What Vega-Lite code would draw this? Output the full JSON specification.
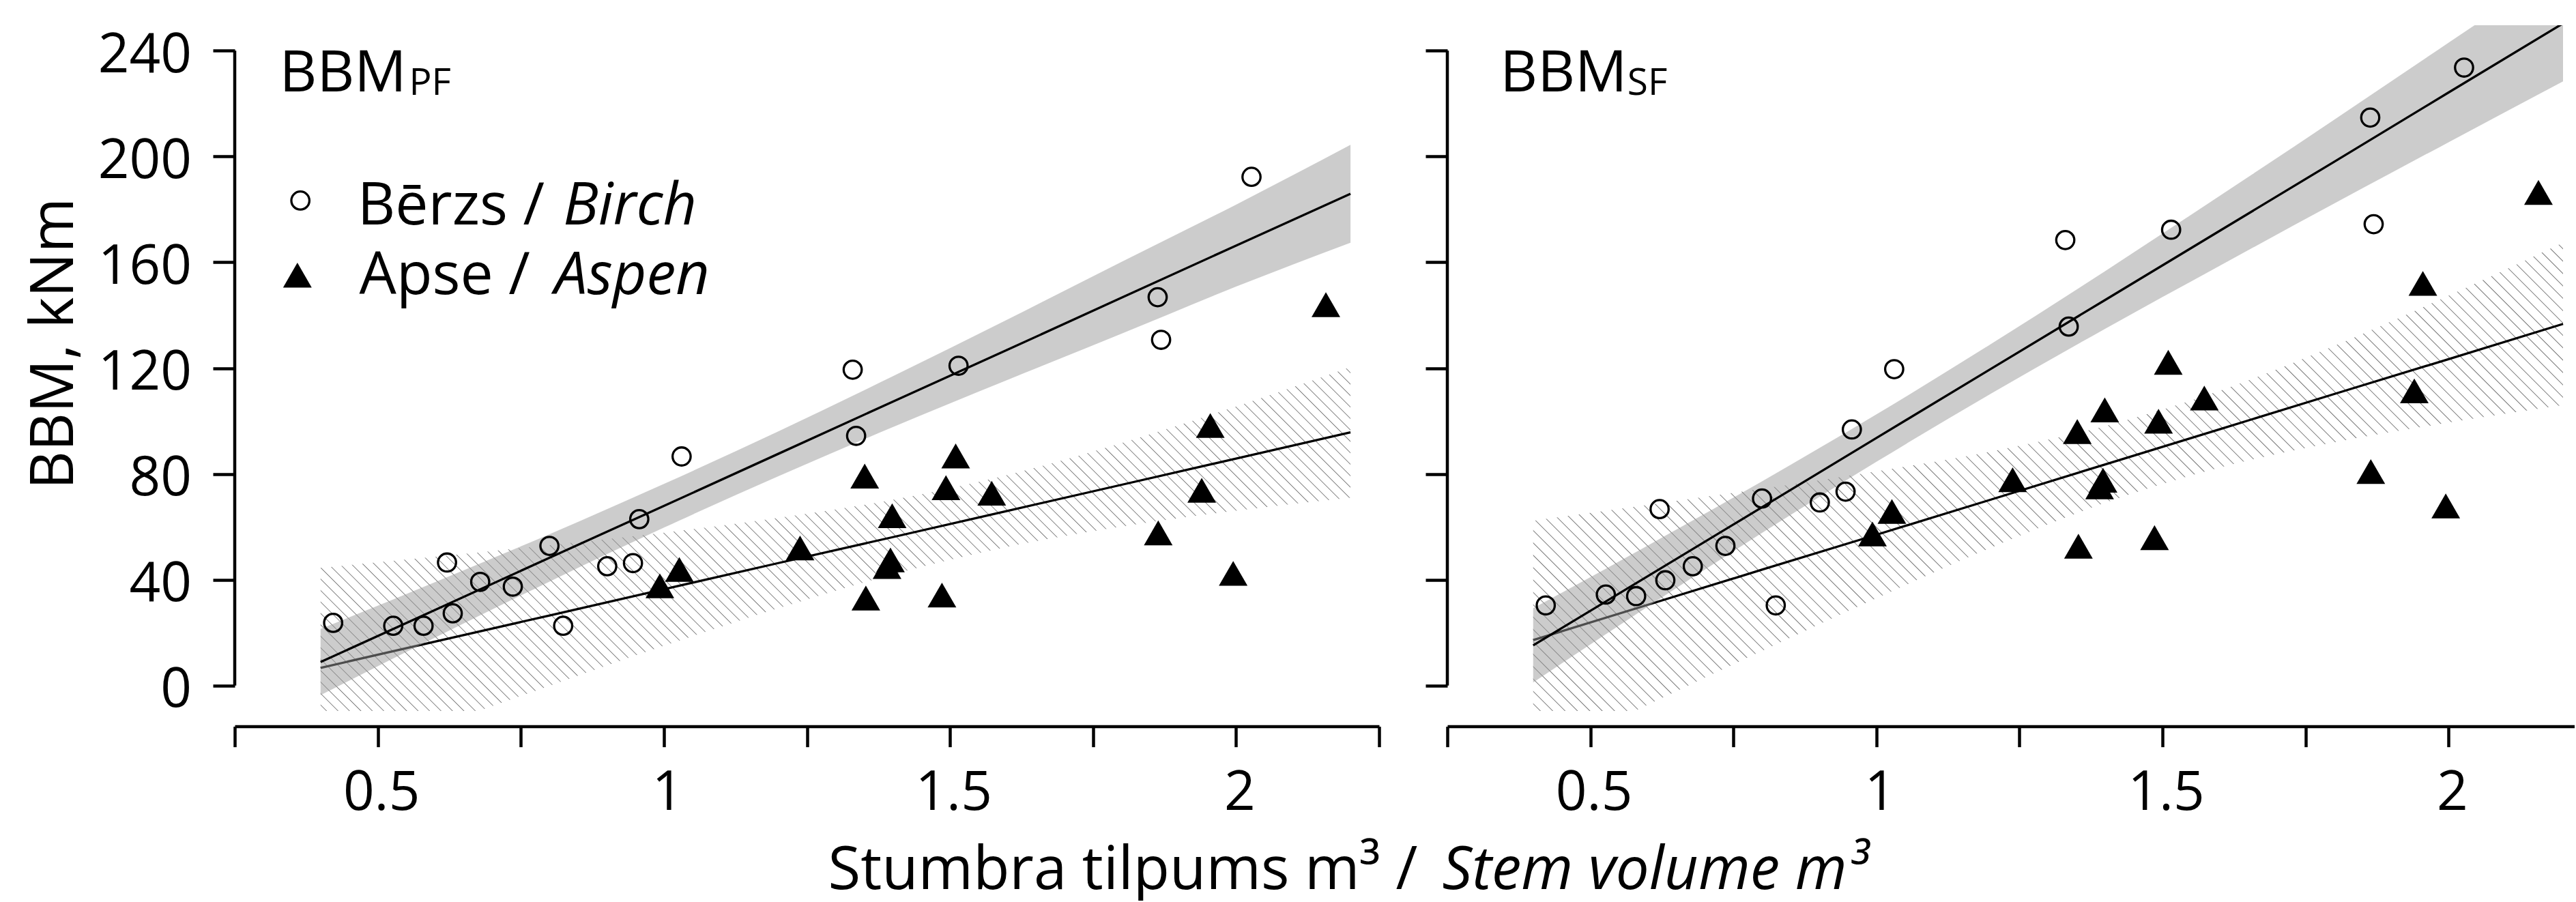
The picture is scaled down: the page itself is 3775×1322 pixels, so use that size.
{
"$schema":"https://vega.github.io/schema/vega-lite/v6.json",
"background":"white",
"padding":{"left":36,"top":37,"right":0,"bottom":0},
"bounds":"flush",
"spacing":100,
"config":{"view":{"stroke":null},"font":"Open Sans","axis":{"grid":false,"labelFont":"Open Sans","titleFont":"Open Sans","labelColor":"black","titleColor":"black","tickColor":"black","domainColor":"black","tickWidth":4.5,"domainWidth":4.5,"labelFontSize":80,"titleFontSize":87,"titleFontWeight":"normal","labelOverlap":false,"labelFlush":false}},
"datasets":{
"pts":[
{"panel":"PF","species":"Birch","vol":0.422,"bbm":23.7},{"panel":"PF","species":"Birch","vol":0.527,"bbm":22.6},{"panel":"PF","species":"Birch","vol":0.580,"bbm":22.6},{"panel":"PF","species":"Birch","vol":0.621,"bbm":46.5},{"panel":"PF","species":"Birch","vol":0.631,"bbm":27.3},{"panel":"PF","species":"Birch","vol":0.679,"bbm":39.2},{"panel":"PF","species":"Birch","vol":0.736,"bbm":37.4},{"panel":"PF","species":"Birch","vol":0.800,"bbm":52.8},{"panel":"PF","species":"Birch","vol":0.824,"bbm":22.6},{"panel":"PF","species":"Birch","vol":0.901,"bbm":45.1},{"panel":"PF","species":"Birch","vol":0.946,"bbm":46.3},{"panel":"PF","species":"Birch","vol":0.957,"bbm":62.9},{"panel":"PF","species":"Birch","vol":1.031,"bbm":86.6},{"panel":"PF","species":"Birch","vol":1.330,"bbm":119.4},{"panel":"PF","species":"Birch","vol":1.336,"bbm":94.4},{"panel":"PF","species":"Birch","vol":1.515,"bbm":120.9},{"panel":"PF","species":"Birch","vol":1.863,"bbm":146.8},{"panel":"PF","species":"Birch","vol":1.869,"bbm":130.7},{"panel":"PF","species":"Birch","vol":2.027,"bbm":192.3},
{"panel":"PF","species":"Aspen","vol":0.993,"bbm":37.7},{"panel":"PF","species":"Aspen","vol":1.027,"bbm":43.9},{"panel":"PF","species":"Aspen","vol":1.238,"bbm":52.0},{"panel":"PF","species":"Aspen","vol":1.351,"bbm":79.2},{"panel":"PF","species":"Aspen","vol":1.353,"bbm":33.1},{"panel":"PF","species":"Aspen","vol":1.390,"bbm":45.0},{"panel":"PF","species":"Aspen","vol":1.396,"bbm":47.5},{"panel":"PF","species":"Aspen","vol":1.399,"bbm":64.2},{"panel":"PF","species":"Aspen","vol":1.486,"bbm":34.2},{"panel":"PF","species":"Aspen","vol":1.493,"bbm":74.8},{"panel":"PF","species":"Aspen","vol":1.510,"bbm":86.8},{"panel":"PF","species":"Aspen","vol":1.573,"bbm":72.7},{"panel":"PF","species":"Aspen","vol":1.864,"bbm":57.7},{"panel":"PF","species":"Aspen","vol":1.940,"bbm":73.8},{"panel":"PF","species":"Aspen","vol":1.955,"bbm":98.3},{"panel":"PF","species":"Aspen","vol":1.995,"bbm":42.4},{"panel":"PF","species":"Aspen","vol":2.157,"bbm":144.0},
{"panel":"SF","species":"Birch","vol":0.422,"bbm":30.3},{"panel":"SF","species":"Birch","vol":0.527,"bbm":34.4},{"panel":"SF","species":"Birch","vol":0.580,"bbm":33.8},{"panel":"SF","species":"Birch","vol":0.621,"bbm":66.7},{"panel":"SF","species":"Birch","vol":0.631,"bbm":39.8},{"panel":"SF","species":"Birch","vol":0.679,"bbm":45.1},{"panel":"SF","species":"Birch","vol":0.736,"bbm":52.8},{"panel":"SF","species":"Birch","vol":0.800,"bbm":70.7},{"panel":"SF","species":"Birch","vol":0.824,"bbm":30.3},{"panel":"SF","species":"Birch","vol":0.901,"bbm":69.2},{"panel":"SF","species":"Birch","vol":0.946,"bbm":73.3},{"panel":"SF","species":"Birch","vol":0.957,"bbm":96.8},{"panel":"SF","species":"Birch","vol":1.031,"bbm":119.6},{"panel":"SF","species":"Birch","vol":1.330,"bbm":168.4},{"panel":"SF","species":"Birch","vol":1.336,"bbm":135.7},{"panel":"SF","species":"Birch","vol":1.515,"bbm":172.3},{"panel":"SF","species":"Birch","vol":1.863,"bbm":214.7},{"panel":"SF","species":"Birch","vol":1.869,"bbm":174.4},{"panel":"SF","species":"Birch","vol":2.027,"bbm":233.6},
{"panel":"SF","species":"Aspen","vol":0.993,"bbm":57.3},{"panel":"SF","species":"Aspen","vol":1.027,"bbm":65.8},{"panel":"SF","species":"Aspen","vol":1.238,"bbm":77.8},{"panel":"SF","species":"Aspen","vol":1.351,"bbm":96.0},{"panel":"SF","species":"Aspen","vol":1.353,"bbm":52.7},{"panel":"SF","species":"Aspen","vol":1.390,"bbm":75.1},{"panel":"SF","species":"Aspen","vol":1.396,"bbm":77.6},{"panel":"SF","species":"Aspen","vol":1.399,"bbm":104.2},{"panel":"SF","species":"Aspen","vol":1.486,"bbm":55.9},{"panel":"SF","species":"Aspen","vol":1.493,"bbm":99.9},{"panel":"SF","species":"Aspen","vol":1.510,"bbm":122.2},{"panel":"SF","species":"Aspen","vol":1.573,"bbm":108.7},{"panel":"SF","species":"Aspen","vol":1.864,"bbm":80.9},{"panel":"SF","species":"Aspen","vol":1.940,"bbm":111.4},{"panel":"SF","species":"Aspen","vol":1.955,"bbm":152.0},{"panel":"SF","species":"Aspen","vol":1.995,"bbm":67.9},{"panel":"SF","species":"Aspen","vol":2.157,"bbm":186.4}
],
"bands":[
{"panel":"PF","species":"Birch","vol":0.4,"fit":8.9,"lo":-3.6,"hi":21.4},{"panel":"PF","species":"Birch","vol":0.6,"fit":28.6,"lo":18.1,"hi":39.1},{"panel":"PF","species":"Birch","vol":0.8,"fit":48.3,"lo":39.3,"hi":57.2},{"panel":"PF","species":"Birch","vol":1.0,"fit":67.9,"lo":59.7,"hi":76.2},{"panel":"PF","species":"Birch","vol":1.2,"fit":87.6,"lo":79.1,"hi":96.1},{"panel":"PF","species":"Birch","vol":1.4,"fit":107.3,"lo":97.7,"hi":116.9},{"panel":"PF","species":"Birch","vol":1.6,"fit":126.9,"lo":115.5,"hi":138.3},{"panel":"PF","species":"Birch","vol":1.8,"fit":146.6,"lo":133.0,"hi":160.2},{"panel":"PF","species":"Birch","vol":2.0,"fit":166.3,"lo":150.8,"hi":181.8},{"panel":"PF","species":"Birch","vol":2.2,"fit":185.9,"lo":167.4,"hi":204.4},
{"panel":"PF","species":"Aspen","vol":0.4,"fit":6.7,"lo":-31.1,"hi":44.5},{"panel":"PF","species":"Aspen","vol":0.6,"fit":16.6,"lo":-15.5,"hi":48.7},{"panel":"PF","species":"Aspen","vol":0.8,"fit":26.5,"lo":-0.1,"hi":53.1},{"panel":"PF","species":"Aspen","vol":1.0,"fit":36.4,"lo":15.0,"hi":57.8},{"panel":"PF","species":"Aspen","vol":1.2,"fit":46.3,"lo":29.2,"hi":63.4},{"panel":"PF","species":"Aspen","vol":1.4,"fit":56.1,"lo":42.0,"hi":70.2},{"panel":"PF","species":"Aspen","vol":1.6,"fit":66.0,"lo":52.4,"hi":79.6},{"panel":"PF","species":"Aspen","vol":1.8,"fit":75.9,"lo":60.1,"hi":91.7},{"panel":"PF","species":"Aspen","vol":2.0,"fit":85.8,"lo":66.1,"hi":105.5},{"panel":"PF","species":"Aspen","vol":2.2,"fit":95.7,"lo":71.0,"hi":120.4},
{"panel":"SF","species":"Birch","vol":0.4,"fit":15.2,"lo":1.2,"hi":29.2},{"panel":"SF","species":"Birch","vol":0.6,"fit":41.3,"lo":29.8,"hi":52.9},{"panel":"SF","species":"Birch","vol":0.8,"fit":67.4,"lo":57.7,"hi":77.2},{"panel":"SF","species":"Birch","vol":1.0,"fit":93.6,"lo":84.6,"hi":102.5},{"panel":"SF","species":"Birch","vol":1.2,"fit":119.7,"lo":110.3,"hi":129.1},{"panel":"SF","species":"Birch","vol":1.4,"fit":145.8,"lo":134.9,"hi":156.7},{"panel":"SF","species":"Birch","vol":1.6,"fit":171.9,"lo":158.7,"hi":185.1},{"panel":"SF","species":"Birch","vol":1.8,"fit":198.0,"lo":182.2,"hi":213.9},{"panel":"SF","species":"Birch","vol":2.0,"fit":224.2,"lo":205.4,"hi":243.0},{"panel":"SF","species":"Birch","vol":2.2,"fit":250.3,"lo":228.4,"hi":272.1},
{"panel":"SF","species":"Aspen","vol":0.4,"fit":17.2,"lo":-27.9,"hi":62.3},{"panel":"SF","species":"Aspen","vol":0.6,"fit":30.5,"lo":-7.3,"hi":68.3},{"panel":"SF","species":"Aspen","vol":0.8,"fit":43.8,"lo":13.1,"hi":74.4},{"panel":"SF","species":"Aspen","vol":1.0,"fit":57.0,"lo":33.0,"hi":81.0},{"panel":"SF","species":"Aspen","vol":1.2,"fit":70.3,"lo":52.1,"hi":88.5},{"panel":"SF","species":"Aspen","vol":1.4,"fit":83.6,"lo":69.1,"hi":98.1},{"panel":"SF","species":"Aspen","vol":1.6,"fit":96.9,"lo":82.4,"hi":111.4},{"panel":"SF","species":"Aspen","vol":1.8,"fit":110.2,"lo":91.9,"hi":128.4},{"panel":"SF","species":"Aspen","vol":2.0,"fit":123.4,"lo":99.4,"hi":147.4},{"panel":"SF","species":"Aspen","vol":2.2,"fit":136.7,"lo":106.0,"hi":167.4}
]
},
"hconcat":[
{
"width":1677,"height":1005,
"layer":[
{"data":{"name":"bands"},"transform":[{"filter":"datum.panel == 'PF' && datum.species == 'Aspen'"}],
"mark":{"type":"area","clip":true,"interpolate":"monotone","fill":{"gradient":"linear","x1":0,"y1":1,"x2":1.2064,"y2":0.5305,"stops":[
{"offset":0.0034,"color":"#fff"},{"offset":0.004,"color":"#777"},{"offset":0.0046,"color":"#fff"},{"offset":0.0114,"color":"#fff"},{"offset":0.012,"color":"#777"},{"offset":0.0126,"color":"#fff"},{"offset":0.0194,"color":"#fff"},{"offset":0.02,"color":"#777"},{"offset":0.0206,"color":"#fff"},{"offset":0.0274,"color":"#fff"},{"offset":0.028,"color":"#777"},{"offset":0.0286,"color":"#fff"},{"offset":0.0354,"color":"#fff"},{"offset":0.036,"color":"#777"},{"offset":0.0366,"color":"#fff"},{"offset":0.0434,"color":"#fff"},{"offset":0.044,"color":"#777"},{"offset":0.0446,"color":"#fff"},{"offset":0.0514,"color":"#fff"},{"offset":0.052,"color":"#777"},{"offset":0.0526,"color":"#fff"},{"offset":0.0594,"color":"#fff"},{"offset":0.06,"color":"#777"},{"offset":0.0606,"color":"#fff"},{"offset":0.0674,"color":"#fff"},{"offset":0.068,"color":"#777"},{"offset":0.0686,"color":"#fff"},{"offset":0.0754,"color":"#fff"},{"offset":0.076,"color":"#777"},{"offset":0.0766,"color":"#fff"},{"offset":0.0834,"color":"#fff"},{"offset":0.084,"color":"#777"},{"offset":0.0846,"color":"#fff"},{"offset":0.0914,"color":"#fff"},{"offset":0.092,"color":"#777"},{"offset":0.0926,"color":"#fff"},{"offset":0.0994,"color":"#fff"},{"offset":0.1,"color":"#777"},{"offset":0.1006,"color":"#fff"},{"offset":0.1074,"color":"#fff"},{"offset":0.108,"color":"#777"},{"offset":0.1086,"color":"#fff"},{"offset":0.1154,"color":"#fff"},{"offset":0.116,"color":"#777"},{"offset":0.1166,"color":"#fff"},{"offset":0.1234,"color":"#fff"},{"offset":0.124,"color":"#777"},{"offset":0.1246,"color":"#fff"},{"offset":0.1314,"color":"#fff"},{"offset":0.132,"color":"#777"},{"offset":0.1326,"color":"#fff"},{"offset":0.1394,"color":"#fff"},{"offset":0.14,"color":"#777"},{"offset":0.1406,"color":"#fff"},{"offset":0.1474,"color":"#fff"},{"offset":0.148,"color":"#777"},{"offset":0.1486,"color":"#fff"},{"offset":0.1554,"color":"#fff"},{"offset":0.156,"color":"#777"},{"offset":0.1566,"color":"#fff"},{"offset":0.1634,"color":"#fff"},{"offset":0.164,"color":"#777"},{"offset":0.1646,"color":"#fff"},{"offset":0.1714,"color":"#fff"},{"offset":0.172,"color":"#777"},{"offset":0.1726,"color":"#fff"},{"offset":0.1794,"color":"#fff"},{"offset":0.18,"color":"#777"},{"offset":0.1806,"color":"#fff"},{"offset":0.1874,"color":"#fff"},{"offset":0.188,"color":"#777"},{"offset":0.1886,"color":"#fff"},{"offset":0.1954,"color":"#fff"},{"offset":0.196,"color":"#777"},{"offset":0.1966,"color":"#fff"},
{"offset":0.2034,"color":"#fff"},{"offset":0.204,"color":"#777"},{"offset":0.2046,"color":"#fff"},{"offset":0.2114,"color":"#fff"},{"offset":0.212,"color":"#777"},{"offset":0.2126,"color":"#fff"},{"offset":0.2194,"color":"#fff"},{"offset":0.22,"color":"#777"},{"offset":0.2206,"color":"#fff"},{"offset":0.2274,"color":"#fff"},{"offset":0.228,"color":"#777"},{"offset":0.2286,"color":"#fff"},{"offset":0.2354,"color":"#fff"},{"offset":0.236,"color":"#777"},{"offset":0.2366,"color":"#fff"},{"offset":0.2434,"color":"#fff"},{"offset":0.244,"color":"#777"},{"offset":0.2446,"color":"#fff"},{"offset":0.2514,"color":"#fff"},{"offset":0.252,"color":"#777"},{"offset":0.2526,"color":"#fff"},{"offset":0.2594,"color":"#fff"},{"offset":0.26,"color":"#777"},{"offset":0.2606,"color":"#fff"},{"offset":0.2674,"color":"#fff"},{"offset":0.268,"color":"#777"},{"offset":0.2686,"color":"#fff"},{"offset":0.2754,"color":"#fff"},{"offset":0.276,"color":"#777"},{"offset":0.2766,"color":"#fff"},{"offset":0.2834,"color":"#fff"},{"offset":0.284,"color":"#777"},{"offset":0.2846,"color":"#fff"},{"offset":0.2914,"color":"#fff"},{"offset":0.292,"color":"#777"},{"offset":0.2926,"color":"#fff"},{"offset":0.2994,"color":"#fff"},{"offset":0.3,"color":"#777"},{"offset":0.3006,"color":"#fff"},{"offset":0.3074,"color":"#fff"},{"offset":0.308,"color":"#777"},{"offset":0.3086,"color":"#fff"},{"offset":0.3154,"color":"#fff"},{"offset":0.316,"color":"#777"},{"offset":0.3166,"color":"#fff"},{"offset":0.3234,"color":"#fff"},{"offset":0.324,"color":"#777"},{"offset":0.3246,"color":"#fff"},{"offset":0.3314,"color":"#fff"},{"offset":0.332,"color":"#777"},{"offset":0.3326,"color":"#fff"},{"offset":0.3394,"color":"#fff"},{"offset":0.34,"color":"#777"},{"offset":0.3406,"color":"#fff"},{"offset":0.3474,"color":"#fff"},{"offset":0.348,"color":"#777"},{"offset":0.3486,"color":"#fff"},{"offset":0.3554,"color":"#fff"},{"offset":0.356,"color":"#777"},{"offset":0.3566,"color":"#fff"},{"offset":0.3634,"color":"#fff"},{"offset":0.364,"color":"#777"},{"offset":0.3646,"color":"#fff"},{"offset":0.3714,"color":"#fff"},{"offset":0.372,"color":"#777"},{"offset":0.3726,"color":"#fff"},{"offset":0.3794,"color":"#fff"},{"offset":0.38,"color":"#777"},{"offset":0.3806,"color":"#fff"},{"offset":0.3874,"color":"#fff"},{"offset":0.388,"color":"#777"},{"offset":0.3886,"color":"#fff"},{"offset":0.3954,"color":"#fff"},{"offset":0.396,"color":"#777"},{"offset":0.3966,"color":"#fff"},
{"offset":0.4034,"color":"#fff"},{"offset":0.404,"color":"#777"},{"offset":0.4046,"color":"#fff"},{"offset":0.4114,"color":"#fff"},{"offset":0.412,"color":"#777"},{"offset":0.4126,"color":"#fff"},{"offset":0.4194,"color":"#fff"},{"offset":0.42,"color":"#777"},{"offset":0.4206,"color":"#fff"},{"offset":0.4274,"color":"#fff"},{"offset":0.428,"color":"#777"},{"offset":0.4286,"color":"#fff"},{"offset":0.4354,"color":"#fff"},{"offset":0.436,"color":"#777"},{"offset":0.4366,"color":"#fff"},{"offset":0.4434,"color":"#fff"},{"offset":0.444,"color":"#777"},{"offset":0.4446,"color":"#fff"},{"offset":0.4514,"color":"#fff"},{"offset":0.452,"color":"#777"},{"offset":0.4526,"color":"#fff"},{"offset":0.4594,"color":"#fff"},{"offset":0.46,"color":"#777"},{"offset":0.4606,"color":"#fff"},{"offset":0.4674,"color":"#fff"},{"offset":0.468,"color":"#777"},{"offset":0.4686,"color":"#fff"},{"offset":0.4754,"color":"#fff"},{"offset":0.476,"color":"#777"},{"offset":0.4766,"color":"#fff"},{"offset":0.4834,"color":"#fff"},{"offset":0.484,"color":"#777"},{"offset":0.4846,"color":"#fff"},{"offset":0.4914,"color":"#fff"},{"offset":0.492,"color":"#777"},{"offset":0.4926,"color":"#fff"},{"offset":0.4994,"color":"#fff"},{"offset":0.5,"color":"#777"},{"offset":0.5006,"color":"#fff"},{"offset":0.5074,"color":"#fff"},{"offset":0.508,"color":"#777"},{"offset":0.5086,"color":"#fff"},{"offset":0.5154,"color":"#fff"},{"offset":0.516,"color":"#777"},{"offset":0.5166,"color":"#fff"},{"offset":0.5234,"color":"#fff"},{"offset":0.524,"color":"#777"},{"offset":0.5246,"color":"#fff"},{"offset":0.5314,"color":"#fff"},{"offset":0.532,"color":"#777"},{"offset":0.5326,"color":"#fff"},{"offset":0.5394,"color":"#fff"},{"offset":0.54,"color":"#777"},{"offset":0.5406,"color":"#fff"},{"offset":0.5474,"color":"#fff"},{"offset":0.548,"color":"#777"},{"offset":0.5486,"color":"#fff"},{"offset":0.5554,"color":"#fff"},{"offset":0.556,"color":"#777"},{"offset":0.5566,"color":"#fff"},{"offset":0.5634,"color":"#fff"},{"offset":0.564,"color":"#777"},{"offset":0.5646,"color":"#fff"},{"offset":0.5714,"color":"#fff"},{"offset":0.572,"color":"#777"},{"offset":0.5726,"color":"#fff"},{"offset":0.5794,"color":"#fff"},{"offset":0.58,"color":"#777"},{"offset":0.5806,"color":"#fff"},{"offset":0.5874,"color":"#fff"},{"offset":0.588,"color":"#777"},{"offset":0.5886,"color":"#fff"},{"offset":0.5954,"color":"#fff"},{"offset":0.596,"color":"#777"},{"offset":0.5966,"color":"#fff"},
{"offset":0.6034,"color":"#fff"},{"offset":0.604,"color":"#777"},{"offset":0.6046,"color":"#fff"},{"offset":0.6114,"color":"#fff"},{"offset":0.612,"color":"#777"},{"offset":0.6126,"color":"#fff"},{"offset":0.6194,"color":"#fff"},{"offset":0.62,"color":"#777"},{"offset":0.6206,"color":"#fff"},{"offset":0.6274,"color":"#fff"},{"offset":0.628,"color":"#777"},{"offset":0.6286,"color":"#fff"},{"offset":0.6354,"color":"#fff"},{"offset":0.636,"color":"#777"},{"offset":0.6366,"color":"#fff"},{"offset":0.6434,"color":"#fff"},{"offset":0.644,"color":"#777"},{"offset":0.6446,"color":"#fff"},{"offset":0.6514,"color":"#fff"},{"offset":0.652,"color":"#777"},{"offset":0.6526,"color":"#fff"},{"offset":0.6594,"color":"#fff"},{"offset":0.66,"color":"#777"},{"offset":0.6606,"color":"#fff"},{"offset":0.6674,"color":"#fff"},{"offset":0.668,"color":"#777"},{"offset":0.6686,"color":"#fff"},{"offset":0.6754,"color":"#fff"},{"offset":0.676,"color":"#777"},{"offset":0.6766,"color":"#fff"},{"offset":0.6834,"color":"#fff"},{"offset":0.684,"color":"#777"},{"offset":0.6846,"color":"#fff"},{"offset":0.6914,"color":"#fff"},{"offset":0.692,"color":"#777"},{"offset":0.6926,"color":"#fff"},{"offset":0.6994,"color":"#fff"},{"offset":0.7,"color":"#777"},{"offset":0.7006,"color":"#fff"},{"offset":0.7074,"color":"#fff"},{"offset":0.708,"color":"#777"},{"offset":0.7086,"color":"#fff"},{"offset":0.7154,"color":"#fff"},{"offset":0.716,"color":"#777"},{"offset":0.7166,"color":"#fff"},{"offset":0.7234,"color":"#fff"},{"offset":0.724,"color":"#777"},{"offset":0.7246,"color":"#fff"},{"offset":0.7314,"color":"#fff"},{"offset":0.732,"color":"#777"},{"offset":0.7326,"color":"#fff"},{"offset":0.7394,"color":"#fff"},{"offset":0.74,"color":"#777"},{"offset":0.7406,"color":"#fff"},{"offset":0.7474,"color":"#fff"},{"offset":0.748,"color":"#777"},{"offset":0.7486,"color":"#fff"},{"offset":0.7554,"color":"#fff"},{"offset":0.756,"color":"#777"},{"offset":0.7566,"color":"#fff"},{"offset":0.7634,"color":"#fff"},{"offset":0.764,"color":"#777"},{"offset":0.7646,"color":"#fff"},{"offset":0.7714,"color":"#fff"},{"offset":0.772,"color":"#777"},{"offset":0.7726,"color":"#fff"},{"offset":0.7794,"color":"#fff"},{"offset":0.78,"color":"#777"},{"offset":0.7806,"color":"#fff"},{"offset":0.7874,"color":"#fff"},{"offset":0.788,"color":"#777"},{"offset":0.7886,"color":"#fff"},{"offset":0.7954,"color":"#fff"},{"offset":0.796,"color":"#777"},{"offset":0.7966,"color":"#fff"},
{"offset":0.8034,"color":"#fff"},{"offset":0.804,"color":"#777"},{"offset":0.8046,"color":"#fff"},{"offset":0.8114,"color":"#fff"},{"offset":0.812,"color":"#777"},{"offset":0.8126,"color":"#fff"},{"offset":0.8194,"color":"#fff"},{"offset":0.82,"color":"#777"},{"offset":0.8206,"color":"#fff"},{"offset":0.8274,"color":"#fff"},{"offset":0.828,"color":"#777"},{"offset":0.8286,"color":"#fff"},{"offset":0.8354,"color":"#fff"},{"offset":0.836,"color":"#777"},{"offset":0.8366,"color":"#fff"},{"offset":0.8434,"color":"#fff"},{"offset":0.844,"color":"#777"},{"offset":0.8446,"color":"#fff"},{"offset":0.8514,"color":"#fff"},{"offset":0.852,"color":"#777"},{"offset":0.8526,"color":"#fff"},{"offset":0.8594,"color":"#fff"},{"offset":0.86,"color":"#777"},{"offset":0.8606,"color":"#fff"},{"offset":0.8674,"color":"#fff"},{"offset":0.868,"color":"#777"},{"offset":0.8686,"color":"#fff"},{"offset":0.8754,"color":"#fff"},{"offset":0.876,"color":"#777"},{"offset":0.8766,"color":"#fff"},{"offset":0.8834,"color":"#fff"},{"offset":0.884,"color":"#777"},{"offset":0.8846,"color":"#fff"},{"offset":0.8914,"color":"#fff"},{"offset":0.892,"color":"#777"},{"offset":0.8926,"color":"#fff"},{"offset":0.8994,"color":"#fff"},{"offset":0.9,"color":"#777"},{"offset":0.9006,"color":"#fff"},{"offset":0.9074,"color":"#fff"},{"offset":0.908,"color":"#777"},{"offset":0.9086,"color":"#fff"},{"offset":0.9154,"color":"#fff"},{"offset":0.916,"color":"#777"},{"offset":0.9166,"color":"#fff"},{"offset":0.9234,"color":"#fff"},{"offset":0.924,"color":"#777"},{"offset":0.9246,"color":"#fff"},{"offset":0.9314,"color":"#fff"},{"offset":0.932,"color":"#777"},{"offset":0.9326,"color":"#fff"},{"offset":0.9394,"color":"#fff"},{"offset":0.94,"color":"#777"},{"offset":0.9406,"color":"#fff"},{"offset":0.9474,"color":"#fff"},{"offset":0.948,"color":"#777"},{"offset":0.9486,"color":"#fff"},{"offset":0.9554,"color":"#fff"},{"offset":0.956,"color":"#777"},{"offset":0.9566,"color":"#fff"},{"offset":0.9634,"color":"#fff"},{"offset":0.964,"color":"#777"},{"offset":0.9646,"color":"#fff"},{"offset":0.9714,"color":"#fff"},{"offset":0.972,"color":"#777"},{"offset":0.9726,"color":"#fff"},{"offset":0.9794,"color":"#fff"},{"offset":0.98,"color":"#777"},{"offset":0.9806,"color":"#fff"},{"offset":0.9874,"color":"#fff"},{"offset":0.988,"color":"#777"},{"offset":0.9886,"color":"#fff"},{"offset":0.9954,"color":"#fff"},{"offset":0.996,"color":"#777"},{"offset":0.9966,"color":"#fff"}
]}},
"encoding":{
"x":{"field":"vol","type":"quantitative","scale":{"domain":[0.25,2.25],"nice":false,"zero":false},"axis":{"title":null,"values":[0.25,0.5,0.75,1,1.25,1.5,1.75,2,2.25],"labelExpr":"datum.value == 0.5 ? '0.5' : datum.value == 1 ? '1' : datum.value == 1.5 ? '1.5' : datum.value == 2 ? '2' : ''","tickSize":30,"labelPadding":29,"offset":22.6,"labelOffset":5}},
"y":{"field":"lo","type":"quantitative","scale":{"domain":[-9.6,249.6],"nice":false,"zero":false},"axis":{"title":"BBM, kNm","values":[0,40,80,120,160,200,240],"domain":false,"tickSize":32,"labelPadding":31.5,"labelOffset":7,"titleX":-237.2,"titleY":466.1,"titleAngle":-90,"titleAlign":"center","titleBaseline":"alphabetic"}},
"y2":{"field":"hi"}}},
{"data":{"name":"bands"},"transform":[{"filter":"datum.panel == 'PF' && datum.species == 'Aspen'"}],
"mark":{"type":"line","clip":true,"color":"black","strokeWidth":3.3},
"encoding":{"x":{"field":"vol","type":"quantitative","title":null},"y":{"field":"fit","type":"quantitative","title":"BBM, kNm"}}},
{"data":{"name":"bands"},"transform":[{"filter":"datum.panel == 'PF' && datum.species == 'Birch'"}],
"mark":{"type":"area","clip":true,"interpolate":"monotone","fill":"#999999","fillOpacity":0.5},
"encoding":{"x":{"field":"vol","type":"quantitative","title":null},"y":{"field":"lo","type":"quantitative","title":"BBM, kNm"},"y2":{"field":"hi"}}},
{"data":{"name":"bands"},"transform":[{"filter":"datum.panel == 'PF' && datum.species == 'Birch'"}],
"mark":{"type":"line","clip":true,"color":"black","strokeWidth":3.3},
"encoding":{"x":{"field":"vol","type":"quantitative","title":null},"y":{"field":"fit","type":"quantitative","title":"BBM, kNm"}}},
{"data":{"values":[{}]},"mark":{"type":"rule","color":"black","strokeWidth":4.5},
"encoding":{"x":{"datum":0.25},"y":{"datum":0},"y2":{"datum":240}}},
{"data":{"name":"pts"},"transform":[{"filter":"datum.panel == 'PF' && datum.species == 'Aspen'"}],
"mark":{"type":"point","shape":"triangle-up","filled":true,"color":"black","opacity":1,"size":1764},
"encoding":{"x":{"field":"vol","type":"quantitative","title":null},"y":{"field":"bbm","type":"quantitative","title":"BBM, kNm"}}},
{"data":{"name":"pts"},"transform":[{"filter":"datum.panel == 'PF' && datum.species == 'Birch'"}],
"mark":{"type":"point","shape":"circle","filled":false,"color":"black","opacity":1,"strokeWidth":3.3,"size":700},
"encoding":{"x":{"field":"vol","type":"quantitative","title":null},"y":{"field":"bbm","type":"quantitative","title":"BBM, kNm"}}},
{"data":{"values":[{}]},"mark":{"type":"point","shape":"circle","filled":false,"color":"black","opacity":1,"strokeWidth":3.3,"size":700},
"encoding":{"x":{"datum":0.3647},"y":{"datum":183.34}}},
{"data":{"values":[{}]},"mark":{"type":"point","shape":"triangle-up","filled":true,"color":"black","opacity":1,"size":1764},
"encoding":{"x":{"datum":0.3595},"y":{"datum":155.15}}},
{"data":{"values":[{}]},"mark":{"type":"text","text":"BBM","font":"Open Sans","fontSize":85,"align":"left","baseline":"alphabetic","color":"black"},
"encoding":{"x":{"datum":0.3281},"y":{"datum":224.69}}},
{"data":{"values":[{}]},"mark":{"type":"text","text":"PF","font":"Open Sans","fontSize":55,"align":"left","baseline":"alphabetic","color":"black"},
"encoding":{"x":{"datum":0.5547},"y":{"datum":223.22}}},
{"data":{"values":[{}]},"mark":{"type":"text","text":"Bērzs /","font":"Open Sans","fontSize":86,"align":"left","baseline":"alphabetic","color":"black"},
"encoding":{"x":{"datum":0.4644},"y":{"datum":174.32}}},
{"data":{"values":[{}]},"mark":{"type":"text","text":"Birch","font":"Open Sans","fontStyle":"italic","fontSize":86,"align":"left","baseline":"alphabetic","color":"black"},
"encoding":{"x":{"datum":0.8239},"y":{"datum":174.32}}},
{"data":{"values":[{}]},"mark":{"type":"text","text":"Apse /","font":"Open Sans","fontSize":86,"align":"left","baseline":"alphabetic","color":"black"},
"encoding":{"x":{"datum":0.4677},"y":{"datum":147.91}}},
{"data":{"values":[{}]},"mark":{"type":"text","text":"Aspen","font":"Open Sans","fontStyle":"italic","fontSize":86,"align":"left","baseline":"alphabetic","color":"black"},
"encoding":{"x":{"datum":0.8087},"y":{"datum":147.91}}},
{"data":{"values":[{}]},"mark":{"type":"text","text":"Stumbra tilpums m³ /","font":"Open Sans","fontSize":87,"align":"left","baseline":"alphabetic","color":"black"},
"encoding":{"x":{"datum":1.287},"y":{"datum":-76.81}}},
{"data":{"values":[{}]},"mark":{"type":"text","text":"Stem volume m³","font":"Open Sans","fontStyle":"italic","fontSize":87,"align":"left","baseline":"alphabetic","color":"black"},
"encoding":{"x":{"datum":2.3603},"y":{"datum":-76.81}}}
]
},
{
"width":1651.8,"height":1005,
"layer":[
{"data":{"name":"bands"},"transform":[{"filter":"datum.panel == 'SF' && datum.species == 'Aspen'"}],
"mark":{"type":"area","clip":true,"interpolate":"monotone","fill":{"gradient":"linear","x1":0,"y1":1,"x2":1.1997,"y2":0.3981,"stops":[
{"offset":0.0034,"color":"#fff"},{"offset":0.004,"color":"#777"},{"offset":0.0046,"color":"#fff"},{"offset":0.0114,"color":"#fff"},{"offset":0.012,"color":"#777"},{"offset":0.0126,"color":"#fff"},{"offset":0.0194,"color":"#fff"},{"offset":0.02,"color":"#777"},{"offset":0.0206,"color":"#fff"},{"offset":0.0274,"color":"#fff"},{"offset":0.028,"color":"#777"},{"offset":0.0286,"color":"#fff"},{"offset":0.0354,"color":"#fff"},{"offset":0.036,"color":"#777"},{"offset":0.0366,"color":"#fff"},{"offset":0.0434,"color":"#fff"},{"offset":0.044,"color":"#777"},{"offset":0.0446,"color":"#fff"},{"offset":0.0514,"color":"#fff"},{"offset":0.052,"color":"#777"},{"offset":0.0526,"color":"#fff"},{"offset":0.0594,"color":"#fff"},{"offset":0.06,"color":"#777"},{"offset":0.0606,"color":"#fff"},{"offset":0.0674,"color":"#fff"},{"offset":0.068,"color":"#777"},{"offset":0.0686,"color":"#fff"},{"offset":0.0754,"color":"#fff"},{"offset":0.076,"color":"#777"},{"offset":0.0766,"color":"#fff"},{"offset":0.0834,"color":"#fff"},{"offset":0.084,"color":"#777"},{"offset":0.0846,"color":"#fff"},{"offset":0.0914,"color":"#fff"},{"offset":0.092,"color":"#777"},{"offset":0.0926,"color":"#fff"},{"offset":0.0994,"color":"#fff"},{"offset":0.1,"color":"#777"},{"offset":0.1006,"color":"#fff"},{"offset":0.1074,"color":"#fff"},{"offset":0.108,"color":"#777"},{"offset":0.1086,"color":"#fff"},{"offset":0.1154,"color":"#fff"},{"offset":0.116,"color":"#777"},{"offset":0.1166,"color":"#fff"},{"offset":0.1234,"color":"#fff"},{"offset":0.124,"color":"#777"},{"offset":0.1246,"color":"#fff"},{"offset":0.1314,"color":"#fff"},{"offset":0.132,"color":"#777"},{"offset":0.1326,"color":"#fff"},{"offset":0.1394,"color":"#fff"},{"offset":0.14,"color":"#777"},{"offset":0.1406,"color":"#fff"},{"offset":0.1474,"color":"#fff"},{"offset":0.148,"color":"#777"},{"offset":0.1486,"color":"#fff"},{"offset":0.1554,"color":"#fff"},{"offset":0.156,"color":"#777"},{"offset":0.1566,"color":"#fff"},{"offset":0.1634,"color":"#fff"},{"offset":0.164,"color":"#777"},{"offset":0.1646,"color":"#fff"},{"offset":0.1714,"color":"#fff"},{"offset":0.172,"color":"#777"},{"offset":0.1726,"color":"#fff"},{"offset":0.1794,"color":"#fff"},{"offset":0.18,"color":"#777"},{"offset":0.1806,"color":"#fff"},{"offset":0.1874,"color":"#fff"},{"offset":0.188,"color":"#777"},{"offset":0.1886,"color":"#fff"},{"offset":0.1954,"color":"#fff"},{"offset":0.196,"color":"#777"},{"offset":0.1966,"color":"#fff"},
{"offset":0.2034,"color":"#fff"},{"offset":0.204,"color":"#777"},{"offset":0.2046,"color":"#fff"},{"offset":0.2114,"color":"#fff"},{"offset":0.212,"color":"#777"},{"offset":0.2126,"color":"#fff"},{"offset":0.2194,"color":"#fff"},{"offset":0.22,"color":"#777"},{"offset":0.2206,"color":"#fff"},{"offset":0.2274,"color":"#fff"},{"offset":0.228,"color":"#777"},{"offset":0.2286,"color":"#fff"},{"offset":0.2354,"color":"#fff"},{"offset":0.236,"color":"#777"},{"offset":0.2366,"color":"#fff"},{"offset":0.2434,"color":"#fff"},{"offset":0.244,"color":"#777"},{"offset":0.2446,"color":"#fff"},{"offset":0.2514,"color":"#fff"},{"offset":0.252,"color":"#777"},{"offset":0.2526,"color":"#fff"},{"offset":0.2594,"color":"#fff"},{"offset":0.26,"color":"#777"},{"offset":0.2606,"color":"#fff"},{"offset":0.2674,"color":"#fff"},{"offset":0.268,"color":"#777"},{"offset":0.2686,"color":"#fff"},{"offset":0.2754,"color":"#fff"},{"offset":0.276,"color":"#777"},{"offset":0.2766,"color":"#fff"},{"offset":0.2834,"color":"#fff"},{"offset":0.284,"color":"#777"},{"offset":0.2846,"color":"#fff"},{"offset":0.2914,"color":"#fff"},{"offset":0.292,"color":"#777"},{"offset":0.2926,"color":"#fff"},{"offset":0.2994,"color":"#fff"},{"offset":0.3,"color":"#777"},{"offset":0.3006,"color":"#fff"},{"offset":0.3074,"color":"#fff"},{"offset":0.308,"color":"#777"},{"offset":0.3086,"color":"#fff"},{"offset":0.3154,"color":"#fff"},{"offset":0.316,"color":"#777"},{"offset":0.3166,"color":"#fff"},{"offset":0.3234,"color":"#fff"},{"offset":0.324,"color":"#777"},{"offset":0.3246,"color":"#fff"},{"offset":0.3314,"color":"#fff"},{"offset":0.332,"color":"#777"},{"offset":0.3326,"color":"#fff"},{"offset":0.3394,"color":"#fff"},{"offset":0.34,"color":"#777"},{"offset":0.3406,"color":"#fff"},{"offset":0.3474,"color":"#fff"},{"offset":0.348,"color":"#777"},{"offset":0.3486,"color":"#fff"},{"offset":0.3554,"color":"#fff"},{"offset":0.356,"color":"#777"},{"offset":0.3566,"color":"#fff"},{"offset":0.3634,"color":"#fff"},{"offset":0.364,"color":"#777"},{"offset":0.3646,"color":"#fff"},{"offset":0.3714,"color":"#fff"},{"offset":0.372,"color":"#777"},{"offset":0.3726,"color":"#fff"},{"offset":0.3794,"color":"#fff"},{"offset":0.38,"color":"#777"},{"offset":0.3806,"color":"#fff"},{"offset":0.3874,"color":"#fff"},{"offset":0.388,"color":"#777"},{"offset":0.3886,"color":"#fff"},{"offset":0.3954,"color":"#fff"},{"offset":0.396,"color":"#777"},{"offset":0.3966,"color":"#fff"},
{"offset":0.4034,"color":"#fff"},{"offset":0.404,"color":"#777"},{"offset":0.4046,"color":"#fff"},{"offset":0.4114,"color":"#fff"},{"offset":0.412,"color":"#777"},{"offset":0.4126,"color":"#fff"},{"offset":0.4194,"color":"#fff"},{"offset":0.42,"color":"#777"},{"offset":0.4206,"color":"#fff"},{"offset":0.4274,"color":"#fff"},{"offset":0.428,"color":"#777"},{"offset":0.4286,"color":"#fff"},{"offset":0.4354,"color":"#fff"},{"offset":0.436,"color":"#777"},{"offset":0.4366,"color":"#fff"},{"offset":0.4434,"color":"#fff"},{"offset":0.444,"color":"#777"},{"offset":0.4446,"color":"#fff"},{"offset":0.4514,"color":"#fff"},{"offset":0.452,"color":"#777"},{"offset":0.4526,"color":"#fff"},{"offset":0.4594,"color":"#fff"},{"offset":0.46,"color":"#777"},{"offset":0.4606,"color":"#fff"},{"offset":0.4674,"color":"#fff"},{"offset":0.468,"color":"#777"},{"offset":0.4686,"color":"#fff"},{"offset":0.4754,"color":"#fff"},{"offset":0.476,"color":"#777"},{"offset":0.4766,"color":"#fff"},{"offset":0.4834,"color":"#fff"},{"offset":0.484,"color":"#777"},{"offset":0.4846,"color":"#fff"},{"offset":0.4914,"color":"#fff"},{"offset":0.492,"color":"#777"},{"offset":0.4926,"color":"#fff"},{"offset":0.4994,"color":"#fff"},{"offset":0.5,"color":"#777"},{"offset":0.5006,"color":"#fff"},{"offset":0.5074,"color":"#fff"},{"offset":0.508,"color":"#777"},{"offset":0.5086,"color":"#fff"},{"offset":0.5154,"color":"#fff"},{"offset":0.516,"color":"#777"},{"offset":0.5166,"color":"#fff"},{"offset":0.5234,"color":"#fff"},{"offset":0.524,"color":"#777"},{"offset":0.5246,"color":"#fff"},{"offset":0.5314,"color":"#fff"},{"offset":0.532,"color":"#777"},{"offset":0.5326,"color":"#fff"},{"offset":0.5394,"color":"#fff"},{"offset":0.54,"color":"#777"},{"offset":0.5406,"color":"#fff"},{"offset":0.5474,"color":"#fff"},{"offset":0.548,"color":"#777"},{"offset":0.5486,"color":"#fff"},{"offset":0.5554,"color":"#fff"},{"offset":0.556,"color":"#777"},{"offset":0.5566,"color":"#fff"},{"offset":0.5634,"color":"#fff"},{"offset":0.564,"color":"#777"},{"offset":0.5646,"color":"#fff"},{"offset":0.5714,"color":"#fff"},{"offset":0.572,"color":"#777"},{"offset":0.5726,"color":"#fff"},{"offset":0.5794,"color":"#fff"},{"offset":0.58,"color":"#777"},{"offset":0.5806,"color":"#fff"},{"offset":0.5874,"color":"#fff"},{"offset":0.588,"color":"#777"},{"offset":0.5886,"color":"#fff"},{"offset":0.5954,"color":"#fff"},{"offset":0.596,"color":"#777"},{"offset":0.5966,"color":"#fff"},
{"offset":0.6034,"color":"#fff"},{"offset":0.604,"color":"#777"},{"offset":0.6046,"color":"#fff"},{"offset":0.6114,"color":"#fff"},{"offset":0.612,"color":"#777"},{"offset":0.6126,"color":"#fff"},{"offset":0.6194,"color":"#fff"},{"offset":0.62,"color":"#777"},{"offset":0.6206,"color":"#fff"},{"offset":0.6274,"color":"#fff"},{"offset":0.628,"color":"#777"},{"offset":0.6286,"color":"#fff"},{"offset":0.6354,"color":"#fff"},{"offset":0.636,"color":"#777"},{"offset":0.6366,"color":"#fff"},{"offset":0.6434,"color":"#fff"},{"offset":0.644,"color":"#777"},{"offset":0.6446,"color":"#fff"},{"offset":0.6514,"color":"#fff"},{"offset":0.652,"color":"#777"},{"offset":0.6526,"color":"#fff"},{"offset":0.6594,"color":"#fff"},{"offset":0.66,"color":"#777"},{"offset":0.6606,"color":"#fff"},{"offset":0.6674,"color":"#fff"},{"offset":0.668,"color":"#777"},{"offset":0.6686,"color":"#fff"},{"offset":0.6754,"color":"#fff"},{"offset":0.676,"color":"#777"},{"offset":0.6766,"color":"#fff"},{"offset":0.6834,"color":"#fff"},{"offset":0.684,"color":"#777"},{"offset":0.6846,"color":"#fff"},{"offset":0.6914,"color":"#fff"},{"offset":0.692,"color":"#777"},{"offset":0.6926,"color":"#fff"},{"offset":0.6994,"color":"#fff"},{"offset":0.7,"color":"#777"},{"offset":0.7006,"color":"#fff"},{"offset":0.7074,"color":"#fff"},{"offset":0.708,"color":"#777"},{"offset":0.7086,"color":"#fff"},{"offset":0.7154,"color":"#fff"},{"offset":0.716,"color":"#777"},{"offset":0.7166,"color":"#fff"},{"offset":0.7234,"color":"#fff"},{"offset":0.724,"color":"#777"},{"offset":0.7246,"color":"#fff"},{"offset":0.7314,"color":"#fff"},{"offset":0.732,"color":"#777"},{"offset":0.7326,"color":"#fff"},{"offset":0.7394,"color":"#fff"},{"offset":0.74,"color":"#777"},{"offset":0.7406,"color":"#fff"},{"offset":0.7474,"color":"#fff"},{"offset":0.748,"color":"#777"},{"offset":0.7486,"color":"#fff"},{"offset":0.7554,"color":"#fff"},{"offset":0.756,"color":"#777"},{"offset":0.7566,"color":"#fff"},{"offset":0.7634,"color":"#fff"},{"offset":0.764,"color":"#777"},{"offset":0.7646,"color":"#fff"},{"offset":0.7714,"color":"#fff"},{"offset":0.772,"color":"#777"},{"offset":0.7726,"color":"#fff"},{"offset":0.7794,"color":"#fff"},{"offset":0.78,"color":"#777"},{"offset":0.7806,"color":"#fff"},{"offset":0.7874,"color":"#fff"},{"offset":0.788,"color":"#777"},{"offset":0.7886,"color":"#fff"},{"offset":0.7954,"color":"#fff"},{"offset":0.796,"color":"#777"},{"offset":0.7966,"color":"#fff"},
{"offset":0.8034,"color":"#fff"},{"offset":0.804,"color":"#777"},{"offset":0.8046,"color":"#fff"},{"offset":0.8114,"color":"#fff"},{"offset":0.812,"color":"#777"},{"offset":0.8126,"color":"#fff"},{"offset":0.8194,"color":"#fff"},{"offset":0.82,"color":"#777"},{"offset":0.8206,"color":"#fff"},{"offset":0.8274,"color":"#fff"},{"offset":0.828,"color":"#777"},{"offset":0.8286,"color":"#fff"},{"offset":0.8354,"color":"#fff"},{"offset":0.836,"color":"#777"},{"offset":0.8366,"color":"#fff"},{"offset":0.8434,"color":"#fff"},{"offset":0.844,"color":"#777"},{"offset":0.8446,"color":"#fff"},{"offset":0.8514,"color":"#fff"},{"offset":0.852,"color":"#777"},{"offset":0.8526,"color":"#fff"},{"offset":0.8594,"color":"#fff"},{"offset":0.86,"color":"#777"},{"offset":0.8606,"color":"#fff"},{"offset":0.8674,"color":"#fff"},{"offset":0.868,"color":"#777"},{"offset":0.8686,"color":"#fff"},{"offset":0.8754,"color":"#fff"},{"offset":0.876,"color":"#777"},{"offset":0.8766,"color":"#fff"},{"offset":0.8834,"color":"#fff"},{"offset":0.884,"color":"#777"},{"offset":0.8846,"color":"#fff"},{"offset":0.8914,"color":"#fff"},{"offset":0.892,"color":"#777"},{"offset":0.8926,"color":"#fff"},{"offset":0.8994,"color":"#fff"},{"offset":0.9,"color":"#777"},{"offset":0.9006,"color":"#fff"},{"offset":0.9074,"color":"#fff"},{"offset":0.908,"color":"#777"},{"offset":0.9086,"color":"#fff"},{"offset":0.9154,"color":"#fff"},{"offset":0.916,"color":"#777"},{"offset":0.9166,"color":"#fff"},{"offset":0.9234,"color":"#fff"},{"offset":0.924,"color":"#777"},{"offset":0.9246,"color":"#fff"},{"offset":0.9314,"color":"#fff"},{"offset":0.932,"color":"#777"},{"offset":0.9326,"color":"#fff"},{"offset":0.9394,"color":"#fff"},{"offset":0.94,"color":"#777"},{"offset":0.9406,"color":"#fff"},{"offset":0.9474,"color":"#fff"},{"offset":0.948,"color":"#777"},{"offset":0.9486,"color":"#fff"},{"offset":0.9554,"color":"#fff"},{"offset":0.956,"color":"#777"},{"offset":0.9566,"color":"#fff"},{"offset":0.9634,"color":"#fff"},{"offset":0.964,"color":"#777"},{"offset":0.9646,"color":"#fff"},{"offset":0.9714,"color":"#fff"},{"offset":0.972,"color":"#777"},{"offset":0.9726,"color":"#fff"},{"offset":0.9794,"color":"#fff"},{"offset":0.98,"color":"#777"},{"offset":0.9806,"color":"#fff"},{"offset":0.9874,"color":"#fff"},{"offset":0.988,"color":"#777"},{"offset":0.9886,"color":"#fff"},{"offset":0.9954,"color":"#fff"},{"offset":0.996,"color":"#777"},{"offset":0.9966,"color":"#fff"}
]}},
"encoding":{
"x":{"field":"vol","type":"quantitative","scale":{"domain":[0.25,2.22],"nice":false,"zero":false},"axis":{"title":null,"values":[0.25,0.5,0.75,1,1.25,1.5,1.75,2],"labelExpr":"datum.value == 0.5 ? '0.5' : datum.value == 1 ? '1' : datum.value == 1.5 ? '1.5' : datum.value == 2 ? '2' : ''","tickSize":30,"labelPadding":29,"offset":22.6,"labelOffset":5}},
"y":{"field":"lo","type":"quantitative","scale":{"domain":[-9.6,249.6],"nice":false,"zero":false},"axis":{"title":null,"labels":false,"values":[0,40,80,120,160,200,240],"domain":false,"tickSize":32}},
"y2":{"field":"hi"}}},
{"data":{"name":"bands"},"transform":[{"filter":"datum.panel == 'SF' && datum.species == 'Aspen'"}],
"mark":{"type":"line","clip":true,"color":"black","strokeWidth":3.3},
"encoding":{"x":{"field":"vol","type":"quantitative","title":null},"y":{"field":"fit","type":"quantitative","title":null}}},
{"data":{"name":"bands"},"transform":[{"filter":"datum.panel == 'SF' && datum.species == 'Birch'"}],
"mark":{"type":"area","clip":true,"interpolate":"monotone","fill":"#999999","fillOpacity":0.5},
"encoding":{"x":{"field":"vol","type":"quantitative","title":null},"y":{"field":"lo","type":"quantitative","title":null},"y2":{"field":"hi"}}},
{"data":{"name":"bands"},"transform":[{"filter":"datum.panel == 'SF' && datum.species == 'Birch'"}],
"mark":{"type":"line","clip":true,"color":"black","strokeWidth":3.3},
"encoding":{"x":{"field":"vol","type":"quantitative","title":null},"y":{"field":"fit","type":"quantitative","title":null}}},
{"data":{"values":[{}]},"mark":{"type":"rule","color":"black","strokeWidth":4.5},
"encoding":{"x":{"datum":0.25},"y":{"datum":0},"y2":{"datum":240}}},
{"data":{"name":"pts"},"transform":[{"filter":"datum.panel == 'SF' && datum.species == 'Aspen'"}],
"mark":{"type":"point","shape":"triangle-up","filled":true,"color":"black","opacity":1,"size":1764},
"encoding":{"x":{"field":"vol","type":"quantitative","title":null},"y":{"field":"bbm","type":"quantitative","title":null}}},
{"data":{"name":"pts"},"transform":[{"filter":"datum.panel == 'SF' && datum.species == 'Birch'"}],
"mark":{"type":"point","shape":"circle","filled":false,"color":"black","opacity":1,"strokeWidth":3.3,"size":700},
"encoding":{"x":{"field":"vol","type":"quantitative","title":null},"y":{"field":"bbm","type":"quantitative","title":null}}},
{"data":{"values":[{}]},"mark":{"type":"text","text":"BBM","font":"Open Sans","fontSize":85,"align":"left","baseline":"alphabetic","color":"black"},
"encoding":{"x":{"datum":0.3421},"y":{"datum":224.69}}},
{"data":{"values":[{}]},"mark":{"type":"text","text":"SF","font":"Open Sans","fontSize":55,"align":"left","baseline":"alphabetic","color":"black"},
"encoding":{"x":{"datum":0.5647},"y":{"datum":223.22}}}
]
}
]
}
